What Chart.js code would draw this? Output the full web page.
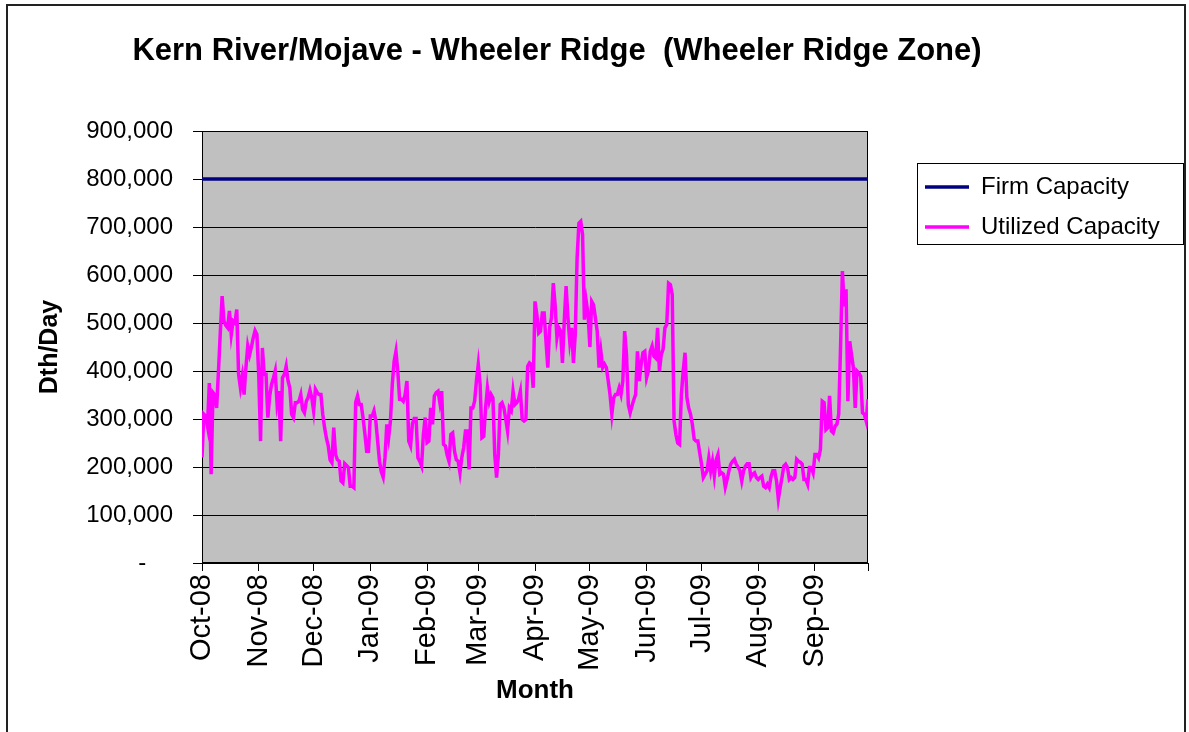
<!DOCTYPE html>
<html>
<head>
<meta charset="utf-8">
<script src="https://cdn.jsdelivr.net/npm/chart.js@4.4.1/dist/chart.umd.min.js"></script>
<style>
html, body { margin: 0; padding: 0; background: #fff; }
canvas { display: block; }
</style>
</head>
<body>
<canvas id="c" width="1189" height="732"></canvas>
<script>
// ---- data ----
const chartTitle = 'Kern River/Mojave - Wheeler Ridge  (Wheeler Ridge Zone)';
const monthLabels = ['Oct-08','Nov-08','Dec-08','Jan-09','Feb-09','Mar-09','Apr-09','May-09','Jun-09','Jul-09','Aug-09','Sep-09'];
const monthStartDay = [0, 31, 61, 92, 123, 151, 182, 212, 243, 273, 304, 335];
const axisEndDay = 364;
const yTicks = [0, 100000, 200000, 300000, 400000, 500000, 600000, 700000, 800000, 900000];
const firmCapacity = 800000;
// daily utilized capacity, Oct 1 2008 .. Sep 30 2009 (Dth/day)
const utilizedCapacity = [
  220000,310000,306000,285000,375000,185000,355000,350000,323000,400000,
  480000,556000,504000,495000,490000,525000,476000,504000,500000,528000,
  393000,365000,389000,351000,407000,452000,434000,450000,469000,484000,
  476000,393000,254000,448000,393000,393000,303000,348000,372000,385000,
  400000,334000,358000,254000,386000,393000,410000,380000,365000,310000,
  303000,334000,334000,337000,351000,320000,313000,337000,345000,360000,
  344000,317000,362000,355000,351000,351000,310000,282000,260000,244000,
  215000,209000,282000,226000,215000,212000,171000,167000,207000,203000,
  199000,160000,160000,157000,335000,348000,330000,330000,303000,270000,
  233000,233000,306000,306000,317000,296000,254000,212000,190000,179000,
  219000,289000,261000,296000,372000,420000,441000,400000,341000,341000,
  337000,350000,379000,254000,244000,290000,301000,301000,219000,212000,
  202000,268000,303000,251000,254000,323000,289000,348000,355000,358000,
  334000,358000,247000,244000,225000,212000,268000,271000,233000,215000,
  212000,188000,220000,240000,275000,275000,195000,323000,323000,337000,
  380000,414000,372000,261000,264000,323000,365000,337000,351000,344000,
  226000,178000,226000,330000,334000,323000,300000,275000,323000,317000,
  358000,330000,334000,341000,358000,299000,296000,299000,410000,417000,
  414000,365000,545000,518000,479000,483000,521000,521000,462000,407000,
  490000,511000,583000,538000,469000,490000,483000,417000,504000,577000,
  511000,462000,490000,417000,476000,635000,708000,712000,684000,507000,
  545000,518000,450000,545000,538000,511000,483000,407000,441000,407000,
  414000,407000,380000,351000,310000,344000,351000,351000,365000,351000,
  379000,483000,434000,330000,313000,327000,340000,351000,441000,379000,
  414000,438000,441000,386000,400000,441000,452000,431000,427000,490000,
  400000,434000,445000,490000,497000,583000,580000,559000,296000,268000,
  250000,247000,351000,400000,438000,345000,323000,310000,289000,258000,
  254000,254000,230000,206000,178000,185000,192000,219000,192000,212000,
  181000,215000,226000,185000,188000,185000,158000,174000,192000,206000,
  212000,216000,206000,200000,192000,171000,192000,202000,207000,207000,
  178000,185000,188000,178000,174000,178000,181000,160000,157000,164000,
  157000,180000,192000,192000,171000,133000,157000,178000,202000,206000,
  199000,174000,178000,174000,178000,216000,212000,210000,206000,174000,
  174000,164000,199000,199000,188000,226000,226000,219000,237000,337000,
  334000,278000,282000,348000,275000,271000,285000,289000,310000,450000,
  608000,535000,570000,337000,462000,434000,407000,323000,400000,396000,
  389000,313000,310000,296000,341000
];

// ---- style / layout ----
Chart.defaults.font.family = "'Liberation Sans', Arial, Helvetica, sans-serif";
Chart.defaults.color = '#000';

const LEGEND_SLOT = 321;          // space right of plot area
const LEGEND_POS = { left: 909, top: 159 };
const TITLE_CENTER_X = 557;

function fmtThousands(v) {
  if (v === 0) return '-    ';
  return String(v).replace(/\B(?=(\d{3})+(?!\d))/g, ',');
}

const framePlugin = {
  id: 'frame',
  beforeDraw(chart) {
    const { ctx, chartArea: a } = chart;
    ctx.save();
    ctx.fillStyle = '#fff';
    ctx.fillRect(0, 0, chart.width, chart.height);
    ctx.strokeStyle = '#222';
    ctx.lineWidth = 2;
    ctx.beginPath();
    ctx.moveTo(7, 745); ctx.lineTo(7, 5); ctx.lineTo(1185, 5); ctx.lineTo(1185, 745);
    ctx.stroke();
    ctx.fillStyle = '#C0C0C0';
    ctx.fillRect(a.left, a.top, a.right - a.left, a.bottom - a.top);
    ctx.restore();
  },
  beforeDatasetsDraw(chart) {
    const { ctx, chartArea: a } = chart;
    ctx.save();
    ctx.strokeStyle = '#000';
    ctx.lineWidth = 1;
    ctx.strokeRect(Math.round(a.left) + 0.5, Math.round(a.top) + 0.5, Math.round(a.right - a.left) - 1, Math.round(a.bottom - a.top) - 1);
    ctx.restore();
  },
  afterDraw(chart) {
    const lg = chart.legend;
    const { ctx } = chart;
    ctx.save();
    ctx.strokeStyle = '#000';
    ctx.lineWidth = 1;
    ctx.strokeRect(Math.round(lg.left) + 8.5, Math.round(lg.top) + 4.5, 266, 81);
    ctx.restore();
  }
};

const placePlugin = {
  id: 'place',
  beforeLayout(chart) {
    const lg = chart.legend;
    if (lg && !lg.__patched) {
      const fit = lg.fit.bind(lg);
      lg.fit = function () { fit(); this.width = LEGEND_SLOT; };
      lg.__patched = true;
    }
  },
  afterLayout(chart) {
    const lg = chart.legend;
    const w = lg.width, h = lg.height;
    lg.left = LEGEND_POS.left; lg.right = lg.left + w;
    lg.top = LEGEND_POS.top; lg.bottom = lg.top + h;
    const t = chart.titleBlock;
    if (t) {
      const tw = t.right - t.left;
      t.left = TITLE_CENTER_X - tw / 2;
      t.right = TITLE_CENTER_X + tw / 2;
    }
  }
};

new Chart(document.getElementById('c'), {
  type: 'line',
  data: {
    datasets: [
      {
        label: 'Firm Capacity',
        data: [{ x: 0, y: firmCapacity }, { x: axisEndDay, y: firmCapacity }],
        borderColor: '#000080',
        backgroundColor: '#000080',
        borderWidth: 3.5,
        pointRadius: 0,
        tension: 0
      },
      {
        label: 'Utilized Capacity',
        data: utilizedCapacity.map((v, i) => ({ x: i, y: v })),
        borderColor: '#FF00FF',
        backgroundColor: '#FF00FF',
        borderWidth: 3.5,
        pointRadius: 0,
        tension: 0
      }
    ]
  },
  options: {
    responsive: false,
    animation: false,
    devicePixelRatio: 1,
    layout: { padding: { left: 20, right: 0, top: 0, bottom: 0 } },
    plugins: {
      title: {
        display: true,
        text: chartTitle,
        color: '#000',
        font: { size: 31, weight: 'bold' },
        padding: { top: 33, bottom: 60.8 }
      },
      legend: {
        display: true,
        position: 'right',
        align: 'start',
        labels: {
          usePointStyle: true,
          pointStyle: 'line',
          pointStyleWidth: 44,
          font: { size: 24 },
          color: '#000',
          padding: 16
        }
      },
      tooltip: { enabled: false }
    },
    scales: {
      x: {
        type: 'linear',
        min: 0,
        max: axisEndDay,
        afterBuildTicks(s) { s.ticks = monthStartDay.concat([axisEndDay]).map(v => ({ value: v })); },
        afterFit(s) { s.height = 169; },
        ticks: {
          autoSkip: false,
          minRotation: 90,
          maxRotation: 90,
          padding: 3,
          font: { size: 29 },
          color: '#000',
          callback(value, index) { return index < monthLabels.length ? monthLabels[index] : ''; }
        },
        grid: { drawOnChartArea: false, drawTicks: true, tickLength: 8, color: '#000' },
        border: { color: '#000', width: 1 },
        title: {
          display: true,
          text: 'Month',
          color: '#000',
          font: { size: 26, weight: 'bold' },
          padding: { top: 0, bottom: 26 }
        }
      },
      y: {
        min: 0,
        max: 900000,
        afterBuildTicks(s) { s.ticks = yTicks.map(v => ({ value: v })); },
        afterFit(s) { s.width = 182; },
        ticks: {
          font: { size: 24 },
          color: '#000',
          padding: 20,
          callback(value) { return fmtThousands(value); }
        },
        grid: { color: '#000', tickLength: 9 },
        border: { color: '#000', width: 1 },
        title: {
          display: true,
          text: 'Dth/Day',
          color: '#000',
          font: { size: 25, weight: 'bold' },
          padding: { top: 15, bottom: 0 }
        }
      }
    }
  },
  plugins: [framePlugin, placePlugin]
});
</script>
</body>
</html>
